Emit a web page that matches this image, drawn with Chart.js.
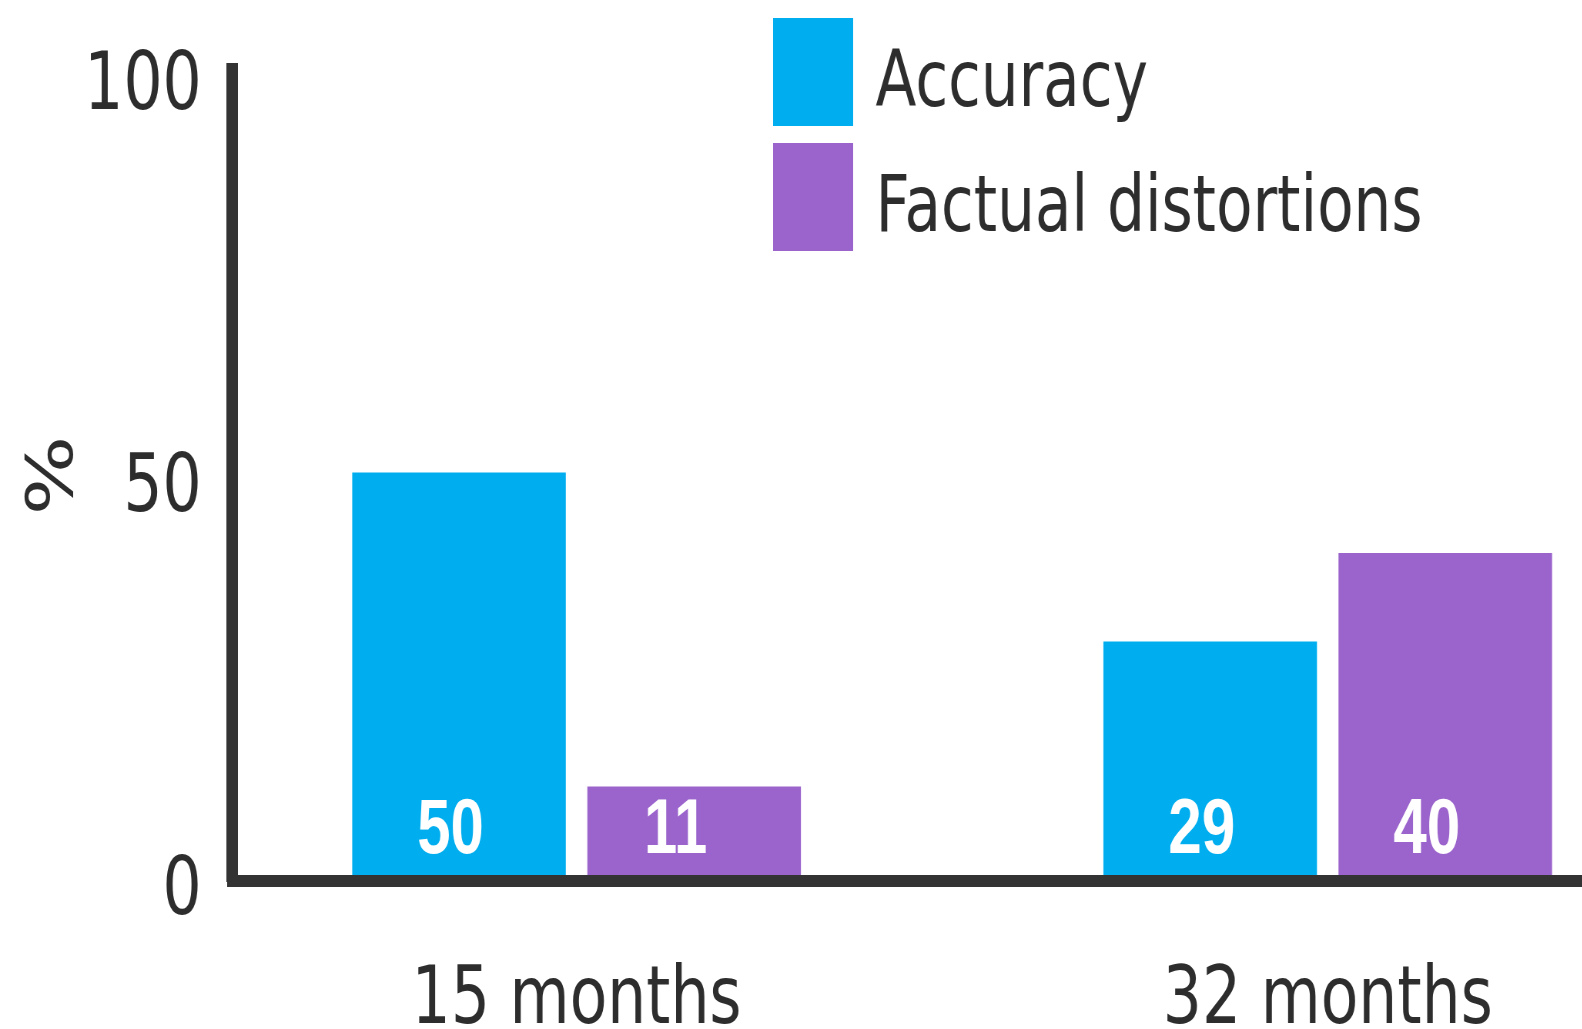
<!DOCTYPE html>
<html>
<head>
<meta charset="utf-8">
<title>Accuracy and factual distortions</title>
<script src="https://cdn.jsdelivr.net/npm/chart.js@4.4.1/dist/chart.umd.min.js"></script>
<style>
  html, body { margin: 0; padding: 0; background: #ffffff; overflow: hidden; }
  /* the drawing is laid out wide and squeezed horizontally for a condensed look */
  #chart { display: block; transform: scaleX(0.77); transform-origin: 0 0; }
</style>
</head>
<body>
<canvas id="chart" width="2055" height="1029"></canvas>
<script>
// ---- data ----
const categories = ['15 months', '32 months'];
const seriesNames = ['Accuracy', 'Factual distortions'];
const accuracy = [50, 29];
const factualDistortions = [11, 40];
const yTickValues = [0, 50, 100];

const seriesColors = ['#00AEEF', '#9B64CC'];
const inkColor = '#2d2d2d';
const axisColor = '#333333';

Chart.defaults.font.family = "'DejaVu Sans', 'Verdana', sans-serif";

const toPoints = (values) => values.map((v, i) => ({ x: i, y: v }));

// white value labels sitting near the bottom of each bar
const valueLabels = {
  id: 'valueLabels',
  afterDatasetsDraw(chart, args, opts) {
    const ctx = chart.ctx;
    ctx.save();
    ctx.fillStyle = '#ffffff';
    ctx.font = "bold 78px 'Liberation Sans', Arial, sans-serif";
    ctx.textAlign = 'center';
    ctx.textBaseline = 'alphabetic';
    chart.data.datasets.forEach((ds, di) => {
      const meta = chart.getDatasetMeta(di);
      if (meta.hidden) return;
      const dx = opts.shift[di] || 0;
      meta.data.forEach((bar, i) => {
        ctx.fillText(String(ds.data[i].y), bar.x + dx, bar.base - opts.lift);
      });
    });
    ctx.restore();
  }
};

// stacked legend with tall colour blocks, placed over the upper plot area
const blockLegend = {
  id: 'blockLegend',
  afterDraw(chart, args, opts) {
    const ctx = chart.ctx;
    ctx.save();
    ctx.font = opts.fontSize + "px 'DejaVu Sans', Verdana, sans-serif";
    ctx.textAlign = 'left';
    ctx.textBaseline = 'alphabetic';
    chart.data.datasets.forEach((ds, i) => {
      const top = opts.top + i * opts.step;
      ctx.fillStyle = ds.backgroundColor;
      ctx.fillRect(opts.left, top, opts.boxWidth, opts.boxHeight);
      ctx.fillStyle = inkColor;
      ctx.fillText(ds.label, opts.textLeft, top + opts.baseline);
    });
    ctx.restore();
  }
};

new Chart(document.getElementById('chart'), {
  type: 'bar',
  data: {
    datasets: [
      { label: seriesNames[0], data: toPoints(accuracy), backgroundColor: seriesColors[0] },
      { label: seriesNames[1], data: toPoints(factualDistortions), backgroundColor: seriesColors[1] }
    ]
  },
  options: {
    responsive: false,
    animation: false,
    events: [],
    categoryPercentage: 0.626,
    barPercentage: 0.9085,
    layout: { padding: { top: 70, right: 0, bottom: 0, left: 0 } },
    plugins: {
      legend: { display: false },
      tooltip: { enabled: false },
      valueLabels: { shift: [-11, -24], lift: 22 },
      blockLegend: {
        left: 1004, top: 18, step: 125,
        boxWidth: 104, boxHeight: 108,
        textLeft: 1137, baseline: 88, fontSize: 77.5
      }
    },
    scales: {
      x: {
        type: 'linear',
        offset: false,
        min: -0.459,
        max: 1.339,
        afterBuildTicks: (s) => { s.ticks = categories.map((_, i) => ({ value: i })); },
        afterFit: (s) => { s.height = 148; },
        grid: { display: false, drawTicks: false, offset: false },
        border: { display: true, color: axisColor, width: 12 },
        ticks: {
          autoSkip: false,
          maxRotation: 0,
          padding: 73,
          color: inkColor,
          font: { size: 80 },
          callback: (v, i) => categories[i]
        }
      },
      y: {
        min: -0.74,
        max: 100,
        afterBuildTicks: (s) => { s.ticks = yTickValues.map((v) => ({ value: v })); },
        afterFit: (s) => { s.width = 301; },
        grid: { display: false, drawTicks: false },
        border: { display: true, color: axisColor, width: 15 },
        ticks: {
          padding: 39,
          labelOffset: 18,
          color: inkColor,
          font: { size: 80, lineHeight: 0.5 }
        },
        title: {
          display: true,
          text: '%',
          color: inkColor,
          font: { size: 84 },
          padding: { top: 22, bottom: 0 }
        }
      }
    }
  },
  plugins: [valueLabels, blockLegend]
});
</script>
</body>
</html>
